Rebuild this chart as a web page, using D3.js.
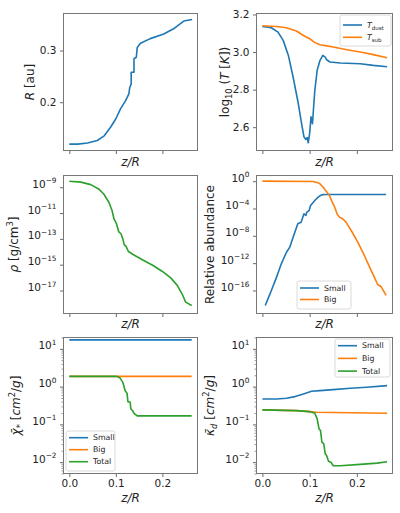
<!DOCTYPE html>
<html>
<head>
<meta charset="utf-8">
<script src="https://cdn.jsdelivr.net/npm/d3@7"></script>
<style>
body { margin: 0; background: #fff; }
svg { display: block; }
text { font-family: "DejaVu Sans", sans-serif; fill: #222; }
</style>
</head>
<body>
<svg id="fig" width="400" height="513"></svg>
<script>
// ---- data ----
var zTicks = [0, 0.1, 0.2];

// R [au] vs z/R
var radiusZ = [0, 0.018, 0.039, 0.06, 0.075, 0.089, 0.1, 0.11, 0.121, 0.128, 0.13, 0.133, 0.133, 0.139, 0.139, 0.144, 0.146, 0.153, 0.174, 0.203, 0.224, 0.246, 0.264];
var radiusR = [0.119, 0.119, 0.121, 0.126, 0.135, 0.152, 0.168, 0.187, 0.203, 0.216, 0.229, 0.235, 0.258, 0.258, 0.284, 0.287, 0.306, 0.314, 0.323, 0.332, 0.342, 0.357, 0.360];

// log10 T
var tdustZ = [0, 0.019, 0.033, 0.044, 0.055, 0.065, 0.076, 0.083, 0.088, 0.092, 0.095, 0.097, 0.1, 0.103, 0.106, 0.108, 0.111, 0.116, 0.122, 0.128, 0.133, 0.136, 0.143, 0.165, 0.207, 0.235, 0.264];
var tdust  = [3.136, 3.129, 3.106, 3.062, 2.982, 2.867, 2.726, 2.619, 2.549, 2.535, 2.545, 2.517, 2.566, 2.655, 2.619, 2.690, 2.796, 2.903, 2.956, 2.982, 2.973, 2.959, 2.947, 2.942, 2.938, 2.929, 2.922];
var tsubZ = [0, 0.03, 0.051, 0.072, 0.087, 0.1, 0.111, 0.122, 0.133, 0.15, 0.179, 0.207, 0.235, 0.264];
var tsub  = [3.140, 3.136, 3.129, 3.112, 3.088, 3.071, 3.05, 3.039, 3.034, 3.027, 3.012, 3.0, 2.986, 2.970];

// density [g/cm3]
var rhoZ = [0, 0.025, 0.046, 0.063, 0.074, 0.085, 0.092, 0.096, 0.101, 0.106, 0.111, 0.115, 0.118, 0.122, 0.127, 0.137, 0.158, 0.18, 0.2, 0.218, 0.232, 0.243, 0.25, 0.263];
var rho  = [2.9e-9, 2.5e-9, 1.6e-9, 7.4e-10, 3.0e-10, 6.9e-11, 1.5e-11, 3.5e-12, 1.6e-12, 3.7e-13, 2.5e-13, 1.0e-13, 3.6e-14, 2.6e-14, 1.05e-14, 6.2e-15, 2.3e-15, 8.7e-16, 3.0e-16, 9.5e-17, 2.5e-17, 4.9e-18, 1.26e-18, 6.9e-19];

// relative abundance
var abSmallZ = [0.006, 0.012, 0.019, 0.03, 0.04, 0.051, 0.058, 0.065, 0.075, 0.082, 0.088, 0.092, 0.094, 0.099, 0.102, 0.111, 0.118, 0.125, 0.132, 0.262];
var abSmall  = [6.3e-19, 6.3e-18, 1e-16, 8.9e-15, 7.9e-13, 4e-11, 2.2e-10, 6.3e-9, 5.8e-7, 1e-6, 1.7e-5, 9.5e-6, 2.9e-5, 5e-5, 2.8e-4, 1.5e-3, 4.6e-3, 1e-2, 1.12e-2, 1.12e-2];
var abBigZ = [0, 0.107, 0.118, 0.122, 0.125, 0.13, 0.132, 0.135, 0.142, 0.147, 0.153, 0.158, 0.163, 0.17, 0.177, 0.188, 0.202, 0.216, 0.227, 0.237, 0.244, 0.251, 0.262];
var abBig  = [1.0, 0.89, 0.58, 0.4, 0.23, 0.105, 0.06, 0.035, 7.9e-3, 1.2e-3, 1.6e-4, 1.7e-5, 5.4e-6, 3.1e-6, 1e-6, 6e-8, 1.2e-9, 1.3e-11, 2.6e-13, 8.9e-15, 7.6e-16, 3.9e-16, 1.9e-17];

// planck mean opacity chi [cm2/g]
var chiZ = [0, 0.102, 0.109, 0.115, 0.12, 0.124, 0.126, 0.131, 0.132, 0.136, 0.139, 0.146, 0.263];
var chiSmall = [17.3, 17.3, 17.3, 17.3, 17.3, 17.3, 17.3, 17.3, 17.3, 17.3, 17.3, 17.3, 17.3];
var chiBig   = [1.87, 1.87, 1.87, 1.87, 1.87, 1.87, 1.87, 1.87, 1.87, 1.87, 1.87, 1.87, 1.87];
var chiTotal = [1.87, 1.87, 1.70, 1.30, 0.78, 0.67, 0.40, 0.385, 0.26, 0.23, 0.197, 0.168, 0.168];

// kappa_d [cm2/g]
var kapSmallZ = [0, 0.03, 0.051, 0.069, 0.087, 0.104, 0.122, 0.15, 0.186, 0.221, 0.264];
var kapSmall  = [0.472, 0.472, 0.492, 0.544, 0.64, 0.753, 0.783, 0.834, 0.904, 0.96, 1.06];
var kapBigZ = [0, 0.072, 0.1, 0.115, 0.15, 0.264];
var kapBig  = [0.242, 0.232, 0.218, 0.21, 0.206, 0.197];
var kapTotalZ = [0, 0.072, 0.1, 0.111, 0.116, 0.12, 0.123, 0.126, 0.13, 0.133, 0.136, 0.14, 0.145, 0.15, 0.165, 0.207, 0.243, 0.264];
var kapTotal  = [0.242, 0.232, 0.218, 0.197, 0.14, 0.076, 0.069, 0.034, 0.0305, 0.0166, 0.015, 0.0106, 0.01, 0.008, 0.008, 0.0087, 0.0094, 0.0102];

// ---- layout ----
var svg = d3.select("#fig");
var C = { blue: "#1f77b4", orange: "#ff7f0e", green: "#2ca02c" };
var cols = [[63.5, 197.5], [256.5, 392.5]];
var rows = [[13.5, 150.5], [175.5, 313.5], [337.5, 473.5]];
var xDomain = [-0.0125, 0.2755];
var xlabelY = [166, 327.5, 502];

// text with parts: {t, i (italic), sup, sub}
function richText(sel, parts, size) {
    var shift = 0;
    parts.forEach(function(p) {
        var ts = sel.append("tspan").text(p.t);
        var target = p.sup ? -0.42 * size : (p.sub ? 0.25 * size : 0);
        ts.attr("dy", target - shift);
        shift = target;
        if (p.sup || p.sub) ts.attr("font-size", size * 0.7);
        if (p.i) ts.attr("font-style", "italic");
    });
}

function powLabel(sel, v, size) {
    sel.text("");
    var e = Math.round(Math.log10(v));
    richText(sel, [{t: "10"}, {t: (e < 0 ? "\u2212" : "") + Math.abs(e), sup: true}], size);
}

function drawPanel(p) {
    var x0 = cols[p.col][0], x1 = cols[p.col][1];
    var y0 = rows[p.row][0], y1 = rows[p.row][1];
    var x = d3.scaleLinear().domain(xDomain).range([x0, x1]);
    var y = (p.log ? d3.scaleLog() : d3.scaleLinear()).domain(p.yDomain).range([y1, y0]);
    var g = svg.append("g");

    // minor ticks on short log axes
    if (p.minor) {
        var minors = y.ticks().filter(function(v) {
            return Math.abs(Math.log10(v) - Math.round(Math.log10(v))) > 1e-6;
        });
        g.append("g").attr("transform", "translate(" + x0 + ",0)")
            .call(d3.axisLeft(y).tickValues(minors).tickSize(2).tickFormat(""))
            .call(function(a) { a.select(".domain").remove(); a.selectAll("line").attr("stroke", "#555").attr("stroke-width", 0.6); });
    }

    var ya = d3.axisLeft(y).tickValues(p.yTicks).tickSize(3.5).tickPadding(3.5);
    if (!p.log) ya.tickFormat(d3.format(".1f"));
    var yg = g.append("g").attr("transform", "translate(" + x0 + ",0)").call(ya);
    yg.select(".domain").remove();
    yg.selectAll("line").attr("stroke", "#444").attr("stroke-width", 0.8);
    yg.selectAll("text").attr("font-size", 10.5).attr("font-family", "DejaVu Sans").attr("fill", "#222");
    if (p.log) yg.selectAll("text").each(function(d) { powLabel(d3.select(this), d, 10.5); });

    var xa = d3.axisBottom(x).tickValues(zTicks).tickSize(3.5).tickPadding(3)
        .tickFormat(p.row === 2 ? d3.format(".1f") : "");
    var xg = g.append("g").attr("transform", "translate(0," + y1 + ")").call(xa);
    xg.select(".domain").remove();
    xg.selectAll("line").attr("stroke", "#444").attr("stroke-width", 0.8);
    xg.selectAll("text").attr("font-size", 10.5).attr("font-family", "DejaVu Sans").attr("fill", "#222");

    var line = d3.line().x(function(d) { return x(d[0]); }).y(function(d) { return y(d[1]); });
    p.series.forEach(function(s) {
        g.append("path").datum(d3.zip(s.x, s.y))
            .attr("d", line).attr("fill", "none")
            .attr("stroke", s.color).attr("stroke-width", 1.6)
            .attr("stroke-linejoin", "round");
    });

    g.append("rect").attr("x", x0).attr("y", y0)
        .attr("width", x1 - x0).attr("height", y1 - y0)
        .attr("fill", "none").attr("stroke", "#777").attr("stroke-width", 1);

    g.append("text").attr("x", (x0 + x1) / 2).attr("y", xlabelY[p.row])
        .attr("text-anchor", "middle").attr("font-size", 12)
        .call(richText, [{t: "z/R", i: true}], 12);

    var cy = (y0 + y1) / 2;
    g.append("text").attr("transform", "translate(" + (p.ylabelX + 4) + "," + cy + ") rotate(-90)")
        .attr("text-anchor", "middle").attr("font-size", 12)
        .call(richText, p.ylabel, 12);

    if (p.legend) drawLegend(g, p.legend, p.series);
}

function drawLegend(g, L, series) {
    var lg = g.append("g");
    lg.append("rect").attr("x", L.x).attr("y", L.y).attr("width", L.w).attr("height", L.h)
        .attr("rx", 2).attr("fill", "#fff").attr("fill-opacity", 0.85)
        .attr("stroke", "#d0d0d0").attr("stroke-width", 0.8);
    series.forEach(function(s, i) {
        var yy = L.y + L.first + i * L.step;
        lg.append("line").attr("x1", L.x + 3).attr("x2", L.x + 22).attr("y1", yy).attr("y2", yy)
            .attr("stroke", s.color).attr("stroke-width", 1.6);
        lg.append("text").attr("x", L.x + 27).attr("y", yy + 2.7).attr("font-size", 7.8)
            .call(richText, s.label, 7.8);
    });
}

drawPanel({
    col: 0, row: 0, yDomain: [0.1066, 0.3716], yTicks: [0.2, 0.3], ylabelX: 30,
    ylabel: [{t: "R", i: true}, {t: " [au]"}],
    series: [{x: radiusZ, y: radiusR, color: C.blue}]
});

drawPanel({
    col: 1, row: 0, yDomain: [2.476, 3.205], yTicks: [2.6, 2.8, 3.0, 3.2], ylabelX: 225,
    ylabel: [{t: "log"}, {t: "10", sub: true}, {t: " ("}, {t: "T", i: true}, {t: " ["}, {t: "K", i: true}, {t: "])"}],
    series: [
        {x: tdustZ, y: tdust, color: C.blue, label: [{t: "T", i: true}, {t: "dust", sub: true}]},
        {x: tsubZ, y: tsub, color: C.orange, label: [{t: "T", i: true}, {t: "sub", sub: true}]}
    ],
    legend: {x: 340, y: 15, w: 51, h: 31, first: 10, step: 12.3}
});

drawPanel({
    col: 0, row: 1, log: true, yDomain: [Math.pow(10, -18.78), Math.pow(10, -8.09)],
    yTicks: [1e-9, 1e-11, 1e-13, 1e-15, 1e-17], ylabelX: 14,
    ylabel: [{t: "\u03c1", i: true}, {t: " [g/cm"}, {t: "3", sup: true}, {t: "]"}],
    series: [{x: rhoZ, y: rho, color: C.green}]
});

drawPanel({
    col: 1, row: 1, log: true, yDomain: [Math.pow(10, -19.37), Math.pow(10, 0.83)],
    yTicks: [1, 1e-4, 1e-8, 1e-12, 1e-16], ylabelX: 210,
    ylabel: [{t: "Relative abundance"}],
    series: [
        {x: abSmallZ, y: abSmall, color: C.blue, label: [{t: "Small"}]},
        {x: abBigZ, y: abBig, color: C.orange, label: [{t: "Big"}]}
    ],
    legend: {x: 297, y: 281, w: 54, h: 28, first: 7, step: 11.5}
});

drawPanel({
    col: 0, row: 2, log: true, minor: true, yDomain: [5e-3, 20],
    yTicks: [10, 1, 0.1, 0.01], ylabelX: 16,
    ylabel: [{t: "\u03c7\u0304", i: true}, {t: "*", sub: true}, {t: " ["}, {t: "cm", i: true}, {t: "2", sup: true}, {t: "/"}, {t: "g", i: true}, {t: "]"}],
    series: [
        {x: chiZ, y: chiSmall, color: C.blue, label: [{t: "Small"}]},
        {x: chiZ, y: chiBig, color: C.orange, label: [{t: "Big"}]},
        {x: chiZ, y: chiTotal, color: C.green, label: [{t: "Total"}]}
    ],
    legend: {x: 66, y: 431, w: 49, h: 40, first: 6.7, step: 12}
});

drawPanel({
    col: 1, row: 2, log: true, minor: true, yDomain: [5e-3, 20],
    yTicks: [10, 1, 0.1, 0.01], ylabelX: 210,
    ylabel: [{t: "\u03ba\u0304", i: true}, {t: "d", sub: true, i: true}, {t: " ["}, {t: "cm", i: true}, {t: "2", sup: true}, {t: "/"}, {t: "g", i: true}, {t: "]"}],
    series: [
        {x: kapSmallZ, y: kapSmall, color: C.blue, label: [{t: "Small"}]},
        {x: kapBigZ, y: kapBig, color: C.orange, label: [{t: "Big"}]},
        {x: kapTotalZ, y: kapTotal, color: C.green, label: [{t: "Total"}]}
    ],
    legend: {x: 335, y: 339, w: 55, h: 38, first: 6.7, step: 12.7}
});
</script>
</body>
</html>
